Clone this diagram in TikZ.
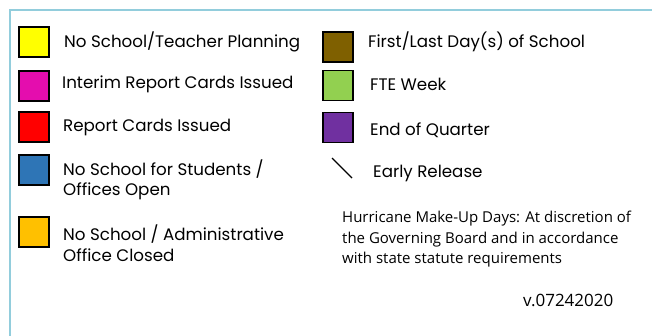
\documentclass[tikz,border=0pt]{standalone}
\usepackage{fontspec}
\setmainfont{Poppins}
\newfontfamily\notefont{Open Sans}
\definecolor{framecol}{HTML}{92CDDC}
\definecolor{noschool}{HTML}{FFFF00}
\definecolor{interim}{HTML}{E40DAE}
\definecolor{report}{HTML}{FF0000}
\definecolor{students}{HTML}{2E75B6}
\definecolor{closed}{HTML}{FFC000}
\definecolor{firstlast}{HTML}{7F6000}
\definecolor{fte}{HTML}{92D050}
\definecolor{quarter}{HTML}{7030A0}
\begin{document}
\begin{tikzpicture}[x=1pt,y=-1pt,
    keybox/.style={draw=black,line width=1.3pt,minimum size=30pt,inner sep=0pt},
    keytext/.style={anchor=west,inner sep=0pt,align=left,font=\fontsize{16.7}{20.5}\selectfont},
    notetext/.style={anchor=base west,inner sep=0pt,align=left,font=\notefont\fontsize{15}{20}\selectfont}]

    \useasboundingbox (0,0) rectangle (652,336);

    \coordinate (F0) at (10,10);
    \coordinate (F1) at (652,10);
    \coordinate (F2) at (10,336);
    \draw[framecol,line width=2pt] (F1) -- (F0) -- (F2);

    \node[keybox,fill=noschool] (Y) at (34,42) {};
    \node[keytext] (Yt) at (64,42) {No School/Teacher Planning};
    \node[keybox,fill=interim] (M) at (34,86) {};
    \node[keytext] (Mt) at (62,84) {Interim Report Cards Issued};
    \node[keybox,fill=report] (R) at (34,127) {};
    \node[keytext] (Rt) at (63,127) {Report Cards Issued};
    \node[keybox,fill=students] (B) at (34,170) {};
    \node[keytext] (Bt) at (63,180) {No School for Students /\\Offices Open};
    \node[keybox,fill=closed] (O) at (34,232) {};
    \node[keytext] (Ot) at (63,243) {No School / Administrative\\Office Closed};

    \node[keybox,fill=firstlast] (D) at (338,47) {};
    \node[keytext] (Dt) at (368,42) {First/Last Day(s) of School};
    \node[keybox,fill=fte] (G) at (338,85.5) {};
    \node[keytext] (Gt) at (370,84) {FTE Week};
    \node[keybox,fill=quarter] (P) at (338,127.5) {};
    \node[keytext] (Pt) at (370,130) {End of Quarter};

    \coordinate (E1) at (332,158);
    \coordinate (E2) at (352,178);
    \draw[-,line width=1.2pt] (E1) -- (E2);
    \node[keytext] (Et) at (373,173) {Early Release};

    \node[notetext] (H) at (342,263) {Hurricane Make-Up Days: At discretion of\\the Governing Board and in accordance\\with state statute requirements};
    \node[notetext,font=\notefont\fontsize{17}{19}\selectfont] (V) at (523,306) {v.07242020};

\end{tikzpicture}
\end{document}
